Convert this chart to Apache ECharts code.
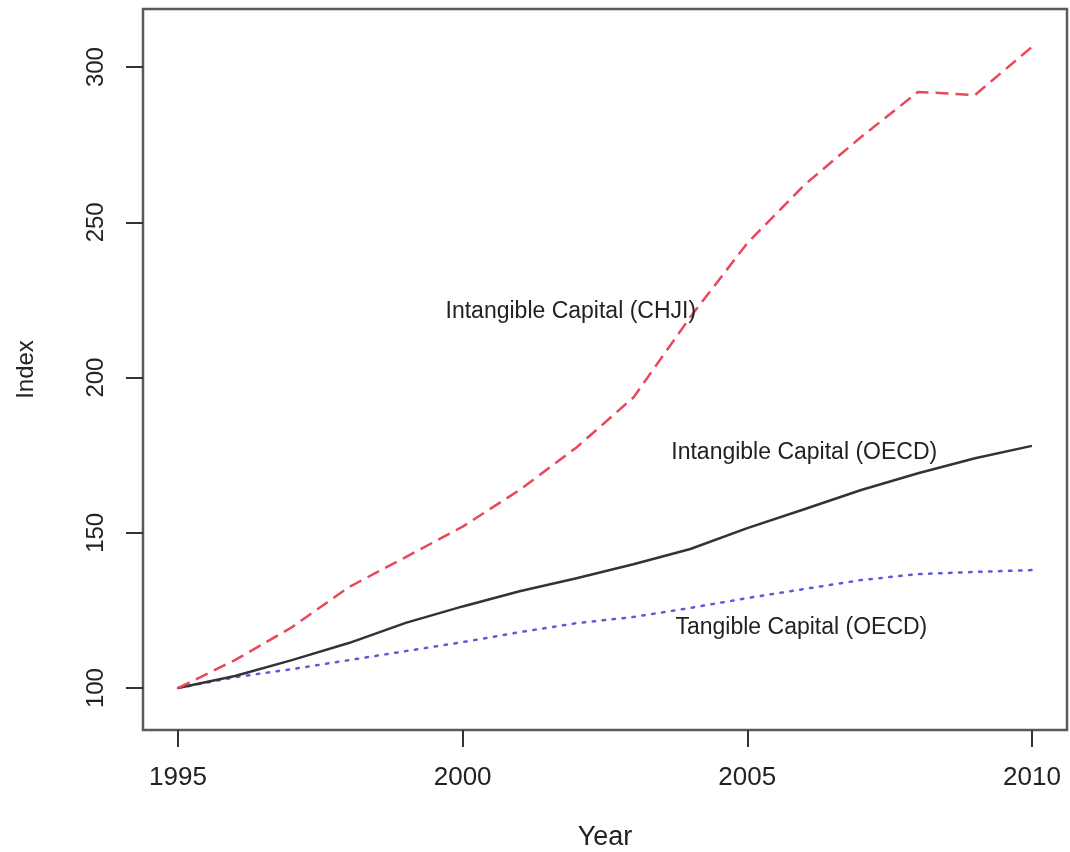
<!DOCTYPE html>
<html>
<head>
<meta charset="utf-8">
<title>Capital Index</title>
<script src="https://cdn.jsdelivr.net/npm/echarts@6/dist/echarts.min.js"></script>
<style>
  html, body { margin: 0; padding: 0; background: #ffffff; }
  #chart { width: 1070px; height: 852px; }
</style>
</head>
<body>
<div id="chart"></div>
<script>
// Years on the horizontal axis
const years = [1995, 1996, 1997, 1998, 1999, 2000, 2001, 2002, 2003, 2004, 2005, 2006, 2007, 2008, 2009, 2010];

// Index series (1995 = 100)
const intangibleCHJI = [100, 109, 119.6, 132.5, 142.2, 152, 163.8, 177.5, 193.6, 219.5, 243.3, 262, 277.5, 292, 291, 306.5];
const intangibleOECD = [100, 103.9, 109, 114.5, 121, 126.3, 131.2, 135.4, 139.9, 144.8, 151.5, 157.6, 163.8, 169.2, 174, 178];
const tangibleOECD   = [100, 103.5, 106.1, 109, 111.9, 114.8, 118, 120.9, 122.9, 125.8, 129, 131.9, 134.8, 136.7, 137.4, 138];

// Tick labels
const xTicks = [1995, 2000, 2005, 2010];
const yTicks = [100, 150, 200, 250, 300];

// In-plot annotations: text and anchor in data units
const noteText = ['Intangible Capital (CHJI)', 'Intangible Capital (OECD)', 'Tangible Capital (OECD)'];
const noteYear = [2001.9, 2006.0, 2005.95];
const noteValue = [221.3, 175.8, 119.3];

const FONT = '"Liberation Sans", Arial, Helvetica, sans-serif';

const pairs = (ys) => years.map((y, i) => [y, ys[i]]);

const chart = echarts.init(document.getElementById('chart'), null, { renderer: 'canvas' });

chart.setOption({
  animation: false,
  backgroundColor: '#ffffff',
  grid: {
    left: 143, right: 3, top: 9, bottom: 122,
    outerBoundsMode: 'none',
    containLabel: false,
    show: true,
    borderColor: '#5a5a5a',
    borderWidth: 2.5,
    backgroundColor: 'transparent'
  },
  xAxis: {
    type: 'value',
    min: 1994.385,
    max: 2010.616,
    name: 'Year',
    nameLocation: 'middle',
    nameGap: 94,
    nameTextStyle: { fontFamily: FONT, fontSize: 27, color: '#222' },
    axisLine: { show: false },
    splitLine: { show: false },
    axisTick: {
      show: true, inside: false, length: 17,
      customValues: xTicks,
      lineStyle: { color: '#333', width: 2 }
    },
    axisLabel: {
      customValues: xTicks,
      margin: 35,
      fontFamily: FONT, fontSize: 26, color: '#222',
      formatter: (v) => String(v)
    }
  },
  yAxis: {
    type: 'value',
    min: 86.5,
    max: 318.7,
    name: 'Index',
    nameLocation: 'middle',
    nameGap: 105,
    nameRotate: 90,
    nameTextStyle: { fontFamily: FONT, fontSize: 24, color: '#222' },
    axisLine: { show: false },
    splitLine: { show: false },
    axisTick: {
      show: true, inside: false, length: 17,
      customValues: yTicks,
      lineStyle: { color: '#333', width: 2 }
    },
    axisLabel: {
      customValues: yTicks,
      rotate: 90,
      margin: 35,
      fontFamily: FONT, fontSize: 24, color: '#222',
      formatter: (v) => String(v)
    }
  },
  series: [
    {
      name: 'Tangible Capital (OECD)',
      type: 'line',
      data: pairs(tangibleOECD),
      showSymbol: false,
      lineStyle: { color: '#5b5bd6', width: 2.5, type: [2.5, 7.5], cap: 'round' },
      z: 3
    },
    {
      name: 'Intangible Capital (OECD)',
      type: 'line',
      data: pairs(intangibleOECD),
      showSymbol: false,
      lineStyle: { color: '#333333', width: 2.5 },
      z: 4
    },
    {
      name: 'Intangible Capital (CHJI)',
      type: 'line',
      data: pairs(intangibleCHJI),
      showSymbol: false,
      lineStyle: { color: '#e8485a', width: 2.5, type: [13, 7] },
      z: 5
    },
    {
      name: 'notes',
      type: 'scatter',
      symbolSize: 0,
      silent: true,
      itemStyle: { color: '#222', opacity: 1 },
      data: noteText.map((t, i) => ({ value: [noteYear[i], noteValue[i]], name: t })),
      label: {
        show: true,
        position: 'inside',
        formatter: (p) => p.name,
        fontFamily: FONT,
        fontSize: 23,
        color: '#222',
        opacity: 1
      },
      z: 6
    }
  ]
});
</script>
</body>
</html>
